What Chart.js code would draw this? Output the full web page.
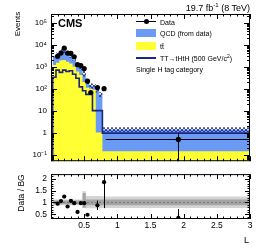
<!DOCTYPE html>
<html lang="en">
<head>
<meta charset="UTF-8" />
<title>Single H tag category</title>
<script src="https://cdn.jsdelivr.net/npm/chart.js"></script>
<style>
  body { margin: 0; background: #fff; font-family: "Liberation Sans", Arial, sans-serif; color: #000; }
  #wrap { position: relative; width: 266px; height: 250px; overflow: hidden; background: #fff; }
  canvas { position: absolute; left: 0; }
  #top { top: 0; }
  #bottom { top: 165px; }
  .t { position: absolute; white-space: nowrap; line-height: 1; }
  .rot { transform: translate(-50%, -50%) rotate(-90deg); }
  .leg { font-size: 7px; left: 160px; transform: translateY(-50%); }
  .box { position: absolute; left: 136px; width: 20px; height: 8px; }
</style>
</head>
<body>
<div id="wrap">
  <canvas id="top" width="266" height="170"></canvas>
  <canvas id="bottom" width="266" height="85"></canvas>

  <div class="t rot" style="left:18px; top:24px; font-size:8px;">Events</div>
  <div class="t rot" style="left:21px; top:193px; font-size:8.5px;">Data / BG</div>
  <div class="t" style="left:244px; top:236px; font-size:9px;">L</div>
  <div class="t" style="left:58px; top:18px; font-size:11px; font-weight:bold;">CMS</div>
  <div class="t" style="right:16px; top:2px; font-size:9px;">19.7 fb<sup style="font-size:6px;">-1</sup> (8 TeV)</div>

  <!-- legend -->
  <div style="position:absolute; left:136px; top:21px; width:20px; height:1px; background:#000;"></div>
  <div style="position:absolute; left:143.5px; top:19px; width:5px; height:5px; border-radius:50%; background:#000;"></div>
  <div class="t leg" style="top:22px;">Data</div>
  <div class="box" style="top:29px; background:#6a9bf4;"></div>
  <div class="t leg" style="top:33px;">QCD (from data)</div>
  <div class="box" style="top:42px; background:#ffff33;"></div>
  <div class="t leg" style="top:46px;">tt&#x0304;</div>
  <div style="position:absolute; left:136px; top:57px; width:20px; height:2px; background:#1c2580;"></div>
  <div class="t leg" style="top:58px;">TT&rarr;tHtH (500 GeV/c<sup style="font-size:5px;">2</sup>)</div>
  <div class="t" style="left:136px; top:66px; font-size:7px;">Single H tag category</div>
</div>

<script>
// binning in L
const binEdges = [0.025, 0.075, 0.125, 0.175, 0.225, 0.275, 0.325, 0.375, 0.425, 0.475, 0.525, 0.575, 0.625, 0.675, 0.725, 0.775, 0.825, 3.0];
const binCenters = [0.05, 0.1, 0.15, 0.2, 0.25, 0.3, 0.35, 0.4, 0.45, 0.5, 0.55, 0.6, 0.65, 0.7, 0.75, 0.8, 1.92];

// stacked backgrounds
const qcdEvents   = [1600, 1850, 2460, 3600, 2800, 1950, 1500, 1000, 530, 400, 260, 110, 40, 38, 89, 53, 1.26];
const ttbarEvents = [1000, 1200, 1500, 1900, 2000, 1700, 1400, 1000, 600, 420, 200, 110, 100, 90, 1.0, 1.0, 0.14];
// signal TT -> tHtH (500 GeV)
const signalEvents = [0, 330, 700, 550, 700, 600, 650, 450, 300, 120, 80, 55, 55, 10, 10, 10, 0.95];
// data
const dataEvents = [null, 2950, 4150, 6950, 4150, 4000, 2800, 1240, 1120, 820, 220, 67, null, 113, null, 100, 0.49];
const dataErr    = [0, 54, 64, 83, 64, 63, 53, 35, 33, 29, 15, 8, 0, 11, 0, 10, 0.5];
// ratio panel
const ratioValues = [null, 0.95, 1.06, 1.25, 0.83, 1.07, 0.97, 0.60, 0.97, 0.97, 0.48, null, null, 0.88, null, 1.86, 0.35];
const ratioErr    = [0, 0.04, 0.04, 0.05, 0.04, 0.04, 0.04, 0.05, 0.05, 0.06, 0.06, 0, 0, 0.2, 0, 1.1, 0.37];
// background uncertainty (relative)
const uncUp   = [0.12, 0.12, 0.12, 0.12, 0.12, 0.12, 0.12, 0.12, 0.12, 0.12, 0.49, 0.27, 0.27, 0.27, 0.27, 0.27, 0.25];
const uncDown = [0.12, 0.12, 0.12, 0.12, 0.12, 0.12, 0.12, 0.12, 0.12, 0.12, 0.22, 0.25, 0.25, 0.25, 0.25, 0.25, 0.23];
const statUnc = [0.08, 0.08, 0.08, 0.08, 0.08, 0.08, 0.08, 0.08, 0.08, 0.08, 0.40, 0.12, 0.12, 0.12, 0.12, 0.12, 0.12];

// axes
const xRange = [0, 3];
const xTickValues = [0.5, 1, 1.5, 2, 2.5, 3];
const yRange = [0.05, 2.5e5];
const yTickValues = [0.1, 1, 10, 100, 1000, 10000, 100000];
const yTickLabels = ['10\u207B\u00B9', '1', '10', '10\u00B2', '10\u00B3', '10\u2074', '10\u2075'];
const ratioRange = [0.3, 2.2];
const ratioTickValues = [0.5, 1, 1.5, 2];
const ratioTickLabels = ['0.5', '1', '1.5', '2'];

const FLOOR = 1e-4;
const bgTotal = qcdEvents.map((q, i) => q + ttbarEvents[i]);

// histogram as step points (stepped: 'after')
function steps(vals, closed) {
  const pts = [];
  if (closed) pts.push({ x: binEdges[0], y: FLOOR });
  vals.forEach((v, i) => pts.push({ x: binEdges[i], y: v > 0 ? v : FLOOR }));
  pts.push({ x: binEdges[binEdges.length - 1], y: vals[vals.length - 1] > 0 ? vals[vals.length - 1] : FLOOR });
  if (closed) pts.push({ x: binEdges[binEdges.length - 1], y: FLOOR });
  return pts;
}
function points(vals) {
  const pts = [];
  vals.forEach((v, i) => { if (v !== null) pts.push({ x: binCenters[i], y: v }); });
  return pts;
}
function hatch(color) {
  const c = document.createElement('canvas');
  c.width = 4; c.height = 4;
  const g = c.getContext('2d');
  g.strokeStyle = color; g.lineWidth = 0.8;
  g.beginPath(); g.moveTo(0, 4); g.lineTo(4, 0); g.moveTo(0, 0); g.lineTo(4, 4); g.stroke();
  return g.createPattern(c, 'repeat');
}

// inward ROOT-style ticks and frame
function makeFrame(xTicks, yTicks) {
  return {
    id: 'frame',
    afterDraw(chart) {
      const { ctx, chartArea: a, scales } = chart;
      ctx.save();
      ctx.strokeStyle = '#000';
      ctx.lineWidth = 1;
      ctx.strokeRect(a.left + 0.5, a.top + 0.5, a.right - a.left - 1, a.bottom - a.top - 1);
      ctx.beginPath();
      xTicks.forEach(([v, len]) => {
        const p = Math.round(scales.x.getPixelForValue(v)) + 0.5;
        ctx.moveTo(p, a.bottom); ctx.lineTo(p, a.bottom - len);
        ctx.moveTo(p, a.top); ctx.lineTo(p, a.top + len);
      });
      yTicks.forEach(([v, len]) => {
        const p = Math.round(scales.y.getPixelForValue(v)) + 0.5;
        if (p < a.top || p > a.bottom) return;
        ctx.moveTo(a.left, p); ctx.lineTo(a.left + len, p);
        ctx.moveTo(a.right, p); ctx.lineTo(a.right - len, p);
      });
      ctx.stroke();
      ctx.restore();
    }
  };
}
// error bars from the arrays
function makeErrors(vals, errs) {
  return {
    id: 'errs',
    afterDatasetsDraw(chart) {
      const { ctx, chartArea: a, scales } = chart;
      ctx.save();
      ctx.beginPath(); ctx.rect(a.left, a.top, a.right - a.left, a.bottom - a.top); ctx.clip();
      ctx.strokeStyle = '#000'; ctx.lineWidth = 1;
      ctx.beginPath();
      vals.forEach((v, i) => {
        if (v === null) return;
        const x = scales.x.getPixelForValue(binCenters[i]);
        const y = scales.y.getPixelForValue(v);
        const lo = v - errs[i] > 0 ? scales.y.getPixelForValue(v - errs[i]) : a.bottom + 5;
        const hi = scales.y.getPixelForValue(v + errs[i]);
        ctx.moveTo(Math.round(x) + 0.5, hi); ctx.lineTo(Math.round(x) + 0.5, lo);
        ctx.moveTo(scales.x.getPixelForValue(binEdges[i]), Math.round(y) + 0.5);
        ctx.lineTo(scales.x.getPixelForValue(binEdges[i + 1]), Math.round(y) + 0.5);
      });
      ctx.stroke();
      ctx.restore();
    }
  };
}

const xTicks = [];
for (let k = 0; k <= 30; k++) xTicks.push([k / 10, k % 5 === 0 ? 5 : 2.5]);
const logTicks = [];
for (let d = -2; d <= 5; d++) for (let m = 1; m <= 9; m++) {
  const v = m * Math.pow(10, d);
  if (v >= yRange[0] && v <= yRange[1]) logTicks.push([v, m === 1 ? 6 : 3]);
}
const ratioTicks = [];
for (let k = 3; k <= 22; k++) ratioTicks.push([k / 10, k % 5 === 0 ? 5 : 2.5]);

const font8 = { family: '"Liberation Sans", Arial, sans-serif', size: 8 };

new Chart(document.getElementById('top'), {
  type: 'line',
  data: {
    datasets: [
      { data: points(dataEvents), showLine: false, pointRadius: 2.6, pointBackgroundColor: '#000', pointBorderWidth: 0, order: 0 },
      { data: steps(signalEvents, true), stepped: 'after', borderColor: '#1c2580', borderWidth: 1.6, pointRadius: 0, fill: false, order: 1 },
      { data: steps(bgTotal.map((t, i) => t * (1 + uncUp[i]))), stepped: 'after', borderWidth: 0, pointRadius: 0,
        fill: '+1', backgroundColor: hatch('#1c2580'), order: 2 },
      { data: steps(bgTotal.map((t, i) => t * (1 - uncDown[i]))), stepped: 'after', borderWidth: 0, pointRadius: 0, fill: false, order: 3 },
      { data: steps(ttbarEvents), stepped: 'after', borderWidth: 0, pointRadius: 0, fill: 'start', backgroundColor: '#ffff33', order: 4 },
      { data: steps(bgTotal), stepped: 'after', borderWidth: 0, pointRadius: 0, fill: 'start', backgroundColor: '#6a9bf4', order: 5 }
    ]
  },
  options: {
    responsive: false, animation: false, devicePixelRatio: 1,
    layout: { padding: { left: 0, right: 16, top: 14, bottom: 6 } },
    plugins: { legend: { display: false }, tooltip: { enabled: false } },
    scales: {
      x: { type: 'linear', min: xRange[0], max: xRange[1], display: false },
      y: {
        type: 'logarithmic', min: yRange[0], max: yRange[1],
        grid: { display: false, drawTicks: false }, border: { display: false },
        afterBuildTicks: s => { s.ticks = yTickValues.map(v => ({ value: v })); },
        afterFit: s => { s.width = 51; },
        ticks: { padding: 4, color: '#000', font: font8, autoSkip: false,
          callback: v => yTickLabels[yTickValues.indexOf(v)] }
      }
    }
  },
  plugins: [makeErrors(dataEvents, dataErr), makeFrame(xTicks, logTicks)]
});

new Chart(document.getElementById('bottom'), {
  type: 'line',
  data: {
    datasets: [
      { data: points(ratioValues), showLine: false, pointRadius: 2.1, pointBackgroundColor: '#000', pointBorderWidth: 0, order: 0 },
      { data: [{ x: xRange[0], y: 1 }, { x: xRange[1], y: 1 }], borderColor: '#777', borderWidth: 1, borderDash: [2, 2], pointRadius: 0, order: 1 },
      { data: steps(statUnc.map(s => 1 + s)), stepped: 'after', borderWidth: 0, pointRadius: 0, fill: '+1', backgroundColor: '#a4a4a4', order: 2 },
      { data: steps(statUnc.map((s, i) => 1 - Math.min(s, uncDown[i]))), stepped: 'after', borderWidth: 0, pointRadius: 0, fill: false, order: 3 },
      { data: steps(uncUp.map(u => 1 + u)), stepped: 'after', borderWidth: 0, pointRadius: 0, fill: '+1', backgroundColor: '#d4d4d4', order: 4 },
      { data: steps(uncDown.map(u => 1 - u)), stepped: 'after', borderWidth: 0, pointRadius: 0, fill: false, order: 5 }
    ]
  },
  options: {
    responsive: false, animation: false, devicePixelRatio: 1,
    layout: { padding: { left: 0, right: 16, top: 4, bottom: 0 } },
    plugins: { legend: { display: false }, tooltip: { enabled: false } },
    scales: {
      x: {
        type: 'linear', min: xRange[0], max: xRange[1],
        grid: { display: false, drawTicks: false }, border: { display: false },
        afterBuildTicks: s => { s.ticks = xTickValues.map(v => ({ value: v })); },
        afterFit: s => { s.height = 31; },
        ticks: { padding: 2, color: '#000', font: { ...font8, size: 8.5 }, maxRotation: 0, autoSkip: false,
          callback: v => String(v) }
      },
      y: {
        type: 'linear', min: ratioRange[0], max: ratioRange[1],
        grid: { display: false, drawTicks: false }, border: { display: false },
        afterBuildTicks: s => { s.ticks = ratioTickValues.map(v => ({ value: v })); },
        afterFit: s => { s.width = 51; },
        ticks: { padding: 4, color: '#000', font: { ...font8, size: 8.5 }, autoSkip: false,
          callback: v => ratioTickLabels[ratioTickValues.indexOf(v)] }
      }
    }
  },
  plugins: [makeErrors(ratioValues, ratioErr), makeFrame(xTicks, ratioTicks)]
});
</script>
</body>
</html>
